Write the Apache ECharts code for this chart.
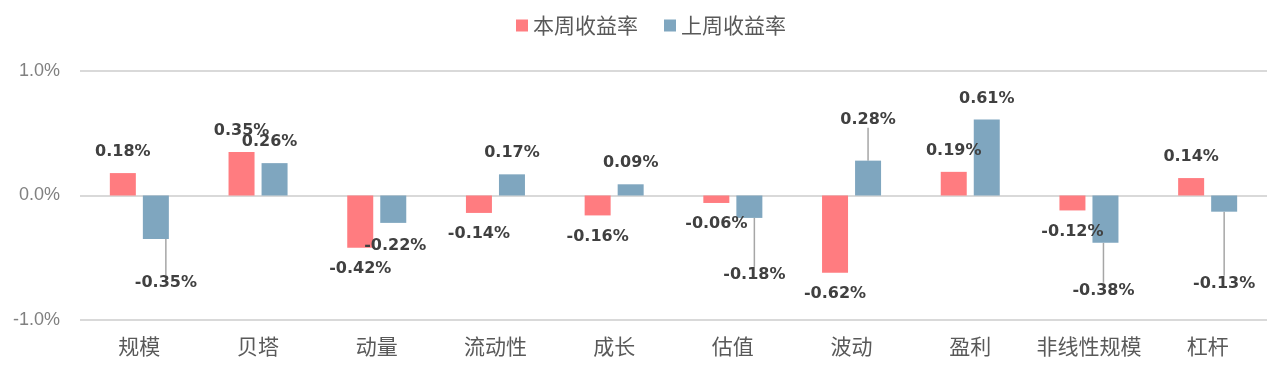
<!DOCTYPE html>
<html>
<head>
<meta charset="utf-8">
<script src="https://cdn.jsdelivr.net/npm/echarts@6/dist/echarts.min.js"></script>
<style>html,body{margin:0;padding:0;background:#fff;}#c{width:1287px;height:372px;}</style>
</head>
<body>
<div id="c"></div>
<script>
const categories = ['规模','贝塔','动量','流动性','成长','估值','波动','盈利','非线性规模','杠杆'];
const thisWeek = [0.18, 0.35, -0.42, -0.14, -0.16, -0.06, -0.62, 0.19, -0.12, 0.14];
const lastWeek = [-0.35, 0.26, -0.22, 0.17, 0.09, -0.18, 0.28, 0.61, -0.38, -0.13];
const seriesNames = ['本周收益率','上周收益率'];
const yTicks = [-1, 0, 1];

// label nudges for the second series (pixels), to mimic the manually placed labels
const lastWeekLabelShift = [[10,23],[-5,0],[2,2],[0,0],[0,0],[5,36],[0,-20],[0,0],[-2,27],[0,51]];

const chart = echarts.init(document.getElementById('c'));
const labelCommon = {
  show: true,
  distance: 13,
  fontFamily: 'DejaVu Sans',
  fontWeight: 'bold',
  fontSize: 16,
  color: '#404040',
  formatter: p => p.value.toFixed(2) + '%'
};
function items(vals, shifts) {
  return vals.map((v, i) => {
    const moved = shifts && Math.abs(shifts[i][1]) > 10;
    return {
      value: v,
      label: { position: v >= 0 ? 'top' : 'bottom' },
      labelLine: { show: !!moved }
    };
  });
}
chart.setOption({
  animation: false,
  legend: {
    data: seriesNames,
    top: 10,
    left: 511,
    itemWidth: 12,
    itemHeight: 12,
    itemGap: 26,
    textStyle: { fontSize: 21, color: '#595959', fontFamily: 'Noto Sans CJK SC' },
    icon: 'rect'
  },
  grid: { left: 80, right: 20, top: 71, bottom: 52 },
  xAxis: {
    type: 'category',
    data: categories,
    axisTick: { show: false },
    axisLine: { show: false },
    axisLabel: { interval: 0, fontSize: 21, color: '#595959', margin: 16, fontFamily: 'Noto Sans CJK SC' }
  },
  yAxis: {
    type: 'value',
    min: yTicks[0],
    max: yTicks[yTicks.length - 1],
    interval: 1,
    axisLine: { show: false },
    axisTick: { show: false },
    splitLine: { lineStyle: { color: '#d9d9d9', width: 2 } },
    axisLabel: {
      fontSize: 18, color: '#808080', margin: 20, fontFamily: 'Liberation Sans',
      formatter: v => v.toFixed(1) + '%'
    }
  },
  series: [
    {
      name: seriesNames[0],
      type: 'bar',
      data: items(thisWeek, null),
      barWidth: 26,
      barGap: '27%',
      itemStyle: { color: '#ff7c80' },
      label: labelCommon
    },
    {
      name: seriesNames[1],
      type: 'bar',
      data: items(lastWeek, lastWeekLabelShift),
      barWidth: 26,
      itemStyle: { color: '#7fa6bf' },
      label: labelCommon,
      labelLine: { lineStyle: { color: '#a6a6a6', width: 1.5 } },
      labelLayout: p => ({ dx: lastWeekLabelShift[p.dataIndex][0], dy: lastWeekLabelShift[p.dataIndex][1] })
    }
  ]
});
</script>
</body>
</html>
